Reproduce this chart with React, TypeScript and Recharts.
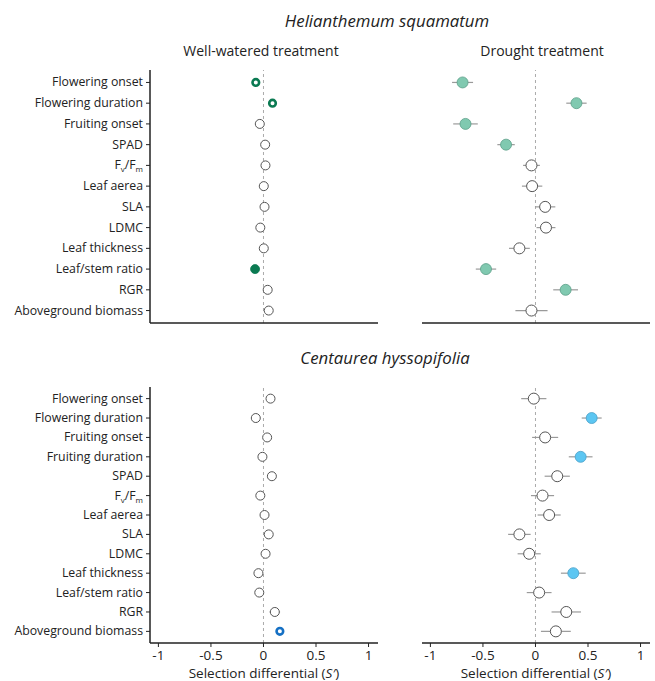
import React from 'react';
import { ScatterChart, Scatter, XAxis, YAxis, ErrorBar, ReferenceLine } from 'recharts';

const FONT = "'Open Sans', sans-serif";

// Trait names
const hsTraits = [
  'Flowering onset', 'Flowering duration', 'Fruiting onset', 'SPAD', 'Fv/Fm', 'Leaf aerea',
  'SLA', 'LDMC', 'Leaf thickness', 'Leaf/stem ratio', 'RGR', 'Aboveground biomass',
];
const chTraits = [
  'Flowering onset', 'Flowering duration', 'Fruiting onset', 'Fruiting duration', 'SPAD', 'Fv/Fm',
  'Leaf aerea', 'SLA', 'LDMC', 'Leaf thickness', 'Leaf/stem ratio', 'RGR', 'Aboveground biomass',
];
const xTicks = [-1, -0.5, 0, 0.5, 1];

// Helianthemum squamatum – well-watered
const hsWellS = [-0.073, 0.086, -0.035, 0.016, 0.019, 0.003, 0.01, -0.03, 0.003, -0.08, 0.04, 0.05];
const hsWellErr = [0.03, 0.03, 0.03, 0.03, 0.03, 0.03, 0.03, 0.03, 0.03, 0.03, 0.03, 0.03];
const hsWellSig = [1, 1, 0, 0, 0, 0, 0, 0, 0, 2, 0, 0];
// Helianthemum squamatum – drought
const hsDroughtS = [-0.694, 0.39, -0.666, -0.28, -0.038, -0.032, 0.092, 0.1, -0.153, -0.471, 0.287, -0.038];
const hsDroughtErr = [0.1, 0.097, 0.117, 0.083, 0.08, 0.097, 0.097, 0.09, 0.099, 0.097, 0.118, 0.153];
const hsDroughtSig = [2, 2, 2, 2, 0, 0, 0, 0, 0, 2, 2, 0];
// Centaurea hyssopifolia – well-watered
const chWellS = [0.067, -0.073, 0.035, -0.01, 0.08, -0.03, 0.01, 0.05, 0.02, -0.048, -0.04, 0.108, 0.156];
const chWellErr = [0.03, 0.03, 0.03, 0.03, 0.03, 0.03, 0.03, 0.03, 0.03, 0.03, 0.03, 0.05, 0.03];
const chWellSig = [0, 0, 0, 0, 0, 0, 0, 0, 0, 0, 0, 0, 1];
// Centaurea hyssopifolia – drought
const chDroughtS = [-0.016, 0.535, 0.092, 0.43, 0.207, 0.067, 0.13, -0.153, -0.06, 0.36, 0.035, 0.293, 0.194];
const chDroughtErr = [0.12, 0.095, 0.124, 0.113, 0.12, 0.11, 0.11, 0.107, 0.11, 0.118, 0.118, 0.14, 0.142];
const chDroughtSig = [0, 2, 0, 2, 0, 0, 0, 0, 0, 2, 0, 0, 0];

const build = (vals: number[], errs: number[], sigs: number[]) =>
  vals.map((v, i) => ({ y: i + 1, x: v, err: errs[i], sig: sigs[i] }));

type Palette = { ring: string; fill: string; fillStroke: string };
const greenWell: Palette = { ring: '#0b7a52', fill: '#0b7a52', fillStroke: '#0b7a52' };
const tealDrought: Palette = { ring: '#5fae95', fill: '#80c9b0', fillStroke: '#5a9e88' };
const blueWell: Palette = { ring: '#1570c4', fill: '#1570c4', fillStroke: '#1570c4' };
const blueDrought: Palette = { ring: '#3aa8e0', fill: '#5cc6f2', fillStroke: '#4a9fc8' };

const makeShape = (pal: Palette, r: number) => (props: any) => {
  const { cx, cy, payload } = props;
  if (cx == null || cy == null) return <g />;
  const sig = payload.sig;
  if (sig === 1) {
    return <circle cx={cx} cy={cy} r={r - 1.2} fill="#fff" stroke={pal.ring} strokeWidth={2.6} />;
  }
  if (sig === 2) {
    return <circle cx={cx} cy={cy} r={r} fill={pal.fill} stroke={pal.fillStroke} strokeWidth={0.8} />;
  }
  return <circle cx={cx} cy={cy} r={r} fill="#fff" stroke="#555" strokeWidth={1} />;
};

const YTick = (props: any) => {
  const { x, y, payload, labels } = props;
  const label = labels[payload.value - 1];
  const common = { x, y, dy: 4, textAnchor: 'end' as const, fill: '#222', fontSize: 12.3, fontFamily: FONT };
  if (label === 'Fv/Fm') {
    return (
      <text {...common}>
        F<tspan fontSize={8} dy={3}>v</tspan>
        <tspan dy={-3}>/F</tspan>
        <tspan fontSize={8} dy={3}>m</tspan>
      </text>
    );
  }
  return <text {...common}>{label}</text>;
};

type PanelProps = {
  left: number; top: number; width: number; height: number;
  data: any[]; labels: string[]; showY: boolean; showXLabels: boolean;
  pal: Palette; r: number;
};

const Panel = ({ left, top, width, height, data, labels, showY, showXLabels, pal, r }: PanelProps) => {
  const n = labels.length;
  return (
    <div style={{ position: 'absolute', left, top }}>
      <ScatterChart
        width={width}
        height={height}
        margin={{ top: 10, right: showY ? 22 : 5, bottom: 0, left: showY ? 0 : 22 }}
      >
        <XAxis
          type="number"
          dataKey="x"
          domain={[-1.08, 1.09]}
          allowDataOverflow
          ticks={xTicks}
          height={showXLabels ? 38 : 27}
          axisLine={{ stroke: '#222', strokeWidth: 1.5 }}
          tickLine={{ stroke: '#222' }}
          tickSize={4}
          tickMargin={3}
          tick={showXLabels ? { fill: '#222', fontSize: 13.5, fontFamily: FONT } : false}
        />
        <YAxis
          type="number"
          dataKey="y"
          domain={[0.4, n + 0.6]}
          allowDataOverflow
          reversed
          ticks={labels.map((_, i) => i + 1)}
          hide={!showY}
          width={150}
          axisLine={{ stroke: '#222', strokeWidth: 1.5 }}
          tickLine={{ stroke: '#222' }}
          tickSize={4}
          tickMargin={3}
          interval={0}
          tick={(p: any) => <YTick {...p} labels={labels} />}
        />
        <ReferenceLine x={0} stroke="#aaa" strokeDasharray="3 3" strokeWidth={1} />
        <Scatter data={data} isAnimationActive={false} shape={makeShape(pal, r)}>
          <ErrorBar dataKey="err" direction="x" width={0} stroke="#9a9a9a" strokeWidth={1.2} />
        </Scatter>
      </ScatterChart>
    </div>
  );
};

const textDiv = (text: React.ReactNode, cx: number, cy: number, size: number, italic = false) => (
  <div
    style={{
      position: 'absolute', left: cx - 200, width: 400, top: cy - 8, lineHeight: '16px',
      textAlign: 'center', fontSize: size, fontStyle: italic ? 'italic' : 'normal', color: '#222',
      fontFamily: FONT, whiteSpace: 'nowrap',
    }}
  >
    {text}
  </div>
);

const axisLabel = (
  <span>
    Selection differential (<i>S′</i>)
  </span>
);

export default function App() {
  return (
    <div style={{ position: 'absolute', left: 0, top: 0, width: 655, height: 681, background: '#fff', overflow: 'hidden' }}>
      {textDiv('Helianthemum squamatum', 387, 21, 16.8, true)}
      {textDiv('Well-watered treatment', 261, 51, 14)}
      {textDiv('Drought treatment', 542, 51, 14)}
      {textDiv('Centaurea hyssopifolia', 385, 358, 16.8, true)}
      {textDiv(axisLabel, 264, 673, 13.5)}
      {textDiv(axisLabel, 536, 673, 13.5)}

      <Panel left={0} top={60} width={400} height={290} data={build(hsWellS, hsWellErr, hsWellSig)}
        labels={hsTraits} showY showXLabels={false} pal={greenWell} r={4.5} />
      <Panel left={400} top={60} width={255} height={290} data={build(hsDroughtS, hsDroughtErr, hsDroughtSig)}
        labels={hsTraits} showY={false} showXLabels={false} pal={tealDrought} r={5.5} />
      <Panel left={0} top={377} width={400} height={304} data={build(chWellS, chWellErr, chWellSig)}
        labels={chTraits} showY showXLabels pal={blueWell} r={4.5} />
      <Panel left={400} top={377} width={255} height={304} data={build(chDroughtS, chDroughtErr, chDroughtSig)}
        labels={chTraits} showY={false} showXLabels pal={blueDrought} r={5.5} />
    </div>
  );
}
